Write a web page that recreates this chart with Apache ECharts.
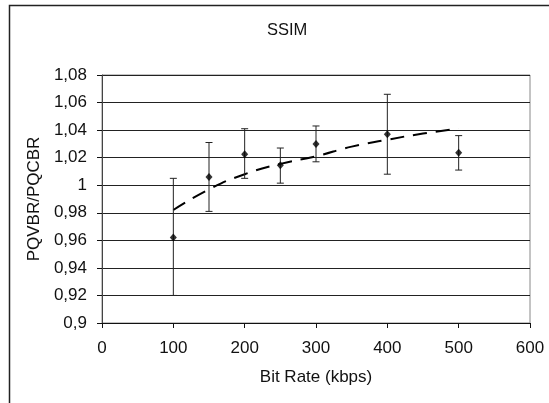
<!DOCTYPE html>
<html>
<head>
<meta charset="utf-8">
<script src="https://cdn.jsdelivr.net/npm/echarts@6/dist/echarts.min.js"></script>
<style>
  html, body { margin: 0; padding: 0; background: #fff; }
  #chart { width: 549px; height: 403px; }
</style>
</head>
<body>
<div id="chart"></div>
<script>
// bit rates (kbps) and measured ratio with error bar ends
const bitRates = [100, 150, 200, 250, 300, 400, 500]
const ratio = [0.962, 1.006, 1.0225, 1.0145, 1.030, 1.037, 1.0235]
const errLow = [0.920, 0.981, 1.005, 1.0015, 1.017, 1.008, 1.011]
const errHigh = [1.005, 1.031, 1.041, 1.027, 1.043, 1.066, 1.036]

// dashed trend line
const trendX = [100, 150, 200, 250, 300, 350, 400, 450, 500]
const trendY = [0.982, 0.997, 1.008, 1.0155, 1.021, 1.028, 1.033, 1.0375, 1.041]

// axis ticks
const xTicks = [0, 100, 200, 300, 400, 500, 600]
const yTicks = [0.9, 0.92, 0.94, 0.96, 0.98, 1, 1.02, 1.04, 1.06, 1.08]

const font = 'Liberation Sans, Arial, sans-serif'
const chart = echarts.init(document.getElementById('chart'), null, { renderer: 'canvas' })

// 格式化：逗号小数
const fmtComma = v => parseFloat(v.toFixed(2)).toString().replace('.', ',')

const errData = bitRates.map((x, i) => [x, errLow[i], errHigh[i]])

const option = {
  backgroundColor: '#fff',
  animation: false,
  textStyle: { fontFamily: font },
  title: {
    text: 'SSIM',
    left: 262,
    top: 17,
    textStyle: { fontFamily: font, fontSize: 16.5, fontWeight: 'normal', color: '#111' }
  },
  graphic: [{
    type: 'rect',
    shape: { x: 9.5, y: 5.5, width: 600, height: 500 },
    style: { fill: 'none', stroke: '#222', lineWidth: 1.5 },
    silent: true,
    z: 100
  }],
  grid: {
    left: 102,
    top: 75,
    right: 19,
    bottom: 80,
    show: true,
    borderColor: '#888',
    borderWidth: 1
  },
  xAxis: {
    type: 'value',
    min: xTicks[0],
    max: xTicks[xTicks.length - 1],
    interval: xTicks[1] - xTicks[0],
    name: 'Bit Rate (kbps)',
    nameLocation: 'middle',
    nameGap: 46,
    nameTextStyle: { fontFamily: font, fontSize: 17, color: '#111' },
    axisLine: { show: true, onZero: false, lineStyle: { color: '#111', width: 1 } },
    axisTick: { show: true, inside: false, length: 5, lineStyle: { color: '#111' } },
    axisLabel: { margin: 17, fontFamily: font, fontSize: 17, color: '#111' },
    splitLine: { show: false }
  },
  yAxis: {
    type: 'value',
    min: yTicks[0],
    max: yTicks[yTicks.length - 1],
    interval: 0.02,
    name: 'PQVBR/PQCBR',
    nameLocation: 'middle',
    nameRotate: 90,
    nameGap: 56,
    nameTextStyle: { fontFamily: font, fontSize: 17, color: '#111' },
    axisLine: { show: true, onZero: false, lineStyle: { color: '#444', width: 1 } },
    axisTick: { show: true, inside: false, length: 5, lineStyle: { color: '#111' } },
    axisLabel: {
      margin: 15,
      fontFamily: font,
      fontSize: 17,
      color: '#111',
      formatter: v => fmtComma(v)
    },
    splitLine: { show: true, lineStyle: { color: '#222', width: 1 } }
  },
  series: [
    {
      name: 'trend',
      type: 'line',
      data: trendX.map((x, i) => [x, trendY[i]]),
      smooth: true,
      symbol: 'none',
      lineStyle: { color: '#000', width: 2, type: [14, 9] },
      z: 3
    },
    {
      name: 'error',
      type: 'custom',
      data: errData,
      renderItem: (params, api) => {
        const x = api.value(0)
        const lo = api.coord([x, api.value(1)])
        const hi = api.coord([x, api.value(2)])
        const cap = 3.5
        const style = { stroke: '#222', lineWidth: 1 }
        return {
          type: 'group',
          children: [
            { type: 'line', shape: { x1: lo[0], y1: lo[1], x2: hi[0], y2: hi[1] }, style },
            { type: 'line', shape: { x1: hi[0] - cap, y1: hi[1], x2: hi[0] + cap, y2: hi[1] }, style },
            { type: 'line', shape: { x1: lo[0] - cap, y1: lo[1], x2: lo[0] + cap, y2: lo[1] }, style }
          ]
        }
      },
      z: 4
    },
    {
      name: 'ratio',
      type: 'scatter',
      data: bitRates.map((x, i) => [x, ratio[i]]),
      symbol: 'diamond',
      symbolSize: [7, 8],
      itemStyle: { color: '#000' },
      z: 5
    }
  ]
}

chart.setOption(option)
</script>
</body>
</html>
